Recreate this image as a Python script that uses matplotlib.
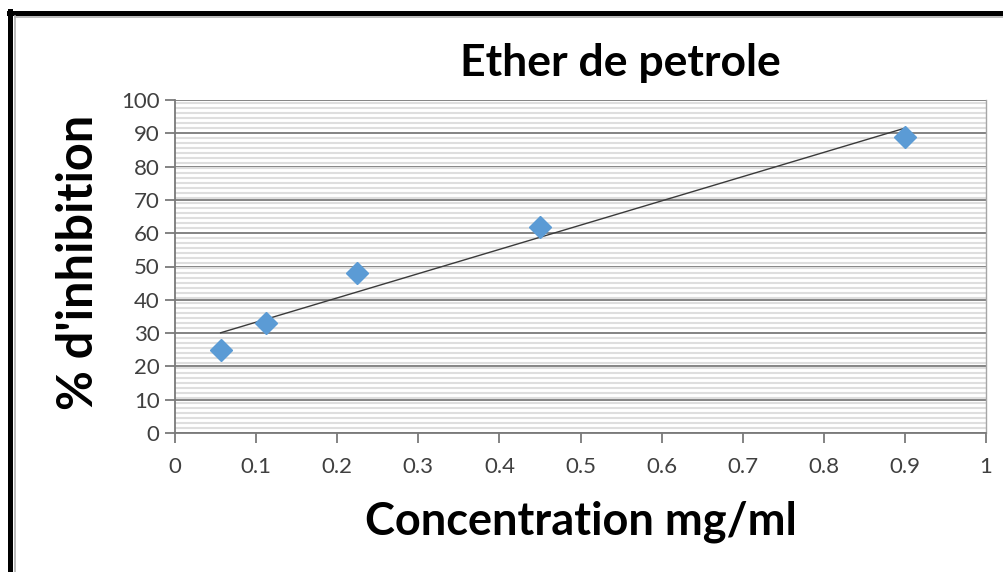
import numpy as np
import matplotlib
matplotlib.use("Agg")
import matplotlib.pyplot as plt
from matplotlib.ticker import MultipleLocator
from matplotlib.lines import Line2D

# data
concentration = [0.05625, 0.1125, 0.225, 0.45, 0.9]
inhibition = [25, 33, 48, 62, 89]
title = "Ether de petrole"
xlabel = "Concentration mg/ml"
ylabel = "% d'inhibition"
xticks = [0, 0.1, 0.2, 0.3, 0.4, 0.5, 0.6, 0.7, 0.8, 0.9, 1]
xticklabels = ["0", "0.1", "0.2", "0.3", "0.4", "0.5", "0.6", "0.7", "0.8", "0.9", "1"]
yticks = [0, 10, 20, 30, 40, 50, 60, 70, 80, 90, 100]

plt.rcParams['font.family'] = ['Lato', 'DejaVu Sans']

W, H = 1004, 572
fig = plt.figure(figsize=(W / 100, H / 100), dpi=100)

# outer frame (black thick + thin gray inside)
def fx(px):
    return px / W
def fy(py):
    return 1 - py / H
fig.add_artist(Line2D([fx(10.5), fx(10.5)], [fy(11), fy(H + 5)], color='black', lw=3.6))
fig.add_artist(Line2D([fx(9), fx(W + 5)], [fy(13), fy(13)], color='black', lw=3.6))
fig.add_artist(Line2D([fx(15.5), fx(15.5)], [fy(16), fy(H + 5)], color='#b0b0b0', lw=1.2))
fig.add_artist(Line2D([fx(15), fx(W + 5)], [fy(16.5), fy(16.5)], color='#b0b0b0', lw=1.2))

left, right, top, bottom = 175, 986, 100, 433
ax = fig.add_axes([left / W, 1 - bottom / H, (right - left) / W, (bottom - top) / H])

ax.set_xlim(0, 1)
ax.set_ylim(0, 100)

# pattern stripes
ax.yaxis.set_minor_locator(MultipleLocator(1.5))
ax.grid(which='minor', axis='y', color='#dedede', lw=1.5, zorder=0)
ax.grid(which='major', axis='y', color='#7a7a7a', lw=1.3, zorder=1)
ax.set_axisbelow(True)

for s in ['top', 'right']:
    ax.spines[s].set_color('#a6a6a6')
    ax.spines[s].set_linewidth(1.0)
for s in ['left', 'bottom']:
    ax.spines[s].set_color('#7a7a7a')
    ax.spines[s].set_linewidth(1.3)
ax.spines['top'].set_visible(False)

ax.set_xticks(xticks)
ax.set_xticklabels(xticklabels)
ax.set_yticks(yticks)
ax.tick_params(axis='both', which='major', direction='out', length=7, width=1.3,
               color='#7a7a7a', labelcolor='#404040', labelsize=16)
ax.tick_params(axis='x', pad=10)
ax.tick_params(axis='y', pad=4)
ax.tick_params(which='minor', length=0)

# data points
ax.plot(concentration, inhibition, linestyle='none', marker='D', markersize=11.5,
        color='#5b9bd5', zorder=4, clip_on=False)

# linear trendline
slope, intercept = np.polyfit(concentration, inhibition, 1)
xs = np.array([min(concentration), max(concentration)])
ax.plot(xs, slope * xs + intercept, color='#3a3a3a', lw=1.0, zorder=3)

fig.text(620 / W, 1 - 63 / H, title, ha='center', va='center', fontsize=32, fontweight='bold')
fig.text(581 / W, 1 - 522 / H, xlabel, ha='center', va='center', fontsize=32.5, fontweight='bold')
fig.text(79 / W, 1 - 262 / H, ylabel, ha='center', va='center', fontsize=35, fontweight='bold',
         rotation=90)

fig.savefig("out.png", dpi=100)
